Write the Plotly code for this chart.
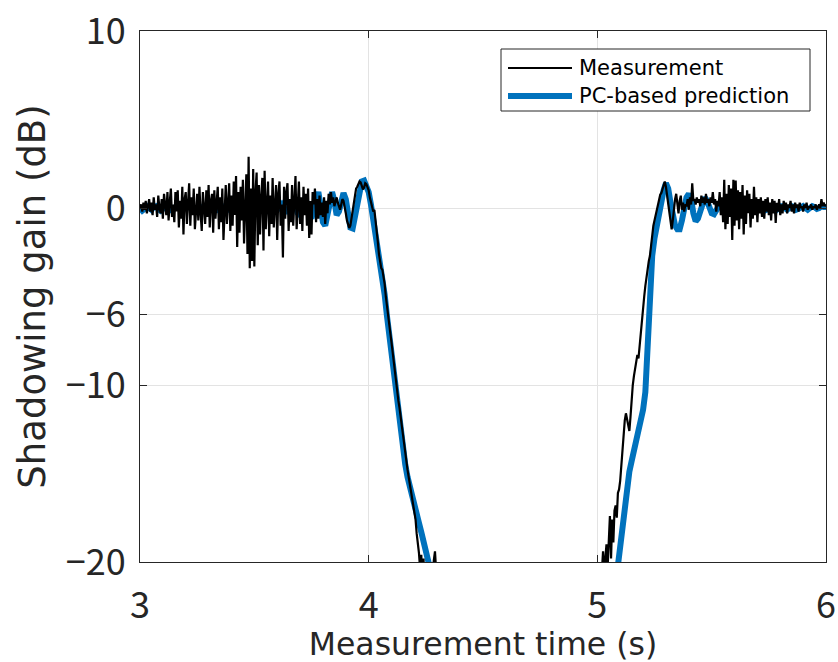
import numpy as np
import plotly.graph_objects as go

# ---------------- data ----------------
DT_MEAS = 0.005
DT_PRED = 0.01

# Measurement, segment 1 starting at t = 3.000 s (step 0.005 s)
meas_left_start = 3.0
meas_left = [
    0.0, 0.2, -0.2, 0.3, -0.1, 0.4, -0.3, 0.1, 0.5, -0.2,
    0.3, -0.4, 0.6, -0.1, 0.2, -0.5, 0.7, 0.0, -0.3, 0.5,
    -0.6, 0.8, 0.1, -0.4, 0.9, -0.7, 0.3, 1.1, -0.5, 0.2,
    -0.8, 0.9, -0.2, 1.0, -1.1, 0.4, -0.6, 1.2, -1.5, 0.5,
    0.9, -0.9, 0.3, 1.4, -1.0, 0.6, -0.4, 1.1, -1.2, 0.2,
    0.8, -0.7, 1.2, -0.3, -1.3, 0.9, 0.1, -0.9, 1.0, -0.5,
    1.3, -1.1, 0.4, 0.8, -1.4, 1.0, -0.6, 0.3, 1.2, -1.2,
    0.6, -0.8, 1.1, -1.8, 0.5, 1.3, -0.9, 0.2, 1.4, -1.3,
    0.7, -1.0, 1.5, -0.4, 1.8, -2.2, 0.9, -1.4, 1.2, -0.7,
    1.6, -2.0, 0.8, 1.9, -2.6, 2.9, -3.4, 1.1, -3.0, 2.2,
    -3.3, 0.9, 2.0, -2.1, 1.3, -1.5, 0.6, 1.7, -2.4, 2.1,
    -1.2, 0.4, 1.5, -1.6, 0.7, -0.9, 1.7, -1.1, 0.3, 1.3,
    -1.8, 0.8, 1.5, -1.0, 0.2, -2.8, 1.2, -0.6, 0.9, 1.4,
    -1.3, 0.5, -0.8, 1.3, -1.0, 0.6, 1.8, -1.2, 0.3, 1.5,
    -0.9, 0.6, -1.3, 1.2, -0.4, 0.8, -1.0, 1.1, -1.7, 0.4,
    -1.5, 0.9, 0.2, 1.1, -0.8, 0.5, -0.6, 0.7, -0.4, 0.3,
    -0.5, 0.6, -0.9, 0.4, -0.3, 0.8, 0.2, 0.9, 0.3, 0.6,
    0.1, 0.4, 0.6, 0.3, 0.0, -0.1, 0.2, 0.5, 0.4, 0.1,
    -0.3, -0.7, -1.0, -1.13, -1.0, -0.6, -0.1, 0.4, 0.8, 1.1,
    1.2, 1.4, 1.5, 1.45, 1.2, 1.05, 1.15, 1.4, 1.35, 1.2,
    1.0, 0.6, 0.3, 0.0, -0.2, -0.1, -0.6, -1.2, -1.9, -2.6,
    -3.1, -3.4, -3.5, -3.8, -4.3, -5.0, -5.6, -6.2, -6.7, -7.1,
    -7.6, -8.2, -8.8, -9.3, -9.8, -10.2, -10.9, -11.3, -11.9, -12.4,
    -12.8, -13.3, -13.9, -14.3, -14.8, -15.2, -15.6, -15.9, -16.4, -16.9,
    -17.3, -17.6, -18.4, -18.9, -19.5, -20.4, -19.6, -21.0, -19.8, -22.0,
    -23.0, -24.0, -24.0, -23.0, -22.0, -21.0, -20.6, -19.9, -19.4, -20.5,
    -24.0,
]

# Measurement, segment 2 starting at t = 5.000 s (step 0.005 s)
meas_right_start = 5.0
meas_right = [
    -25.0, -24.0, -23.0, -22.0, -20.8, -19.4, -20.6, -19.6, -19.0, -20.3,
    -18.2, -17.4, -19.8, -17.6, -18.9, -17.1, -16.8, -17.5, -16.1, -15.9,
    -15.4, -14.4, -13.5, -12.6, -12.0, -11.6, -11.9, -12.3, -12.6, -11.8,
    -10.8, -10.0, -9.5, -9.0, -8.5, -8.3, -8.5, -7.8, -6.9, -6.0,
    -5.4, -5.0, -4.4, -3.8, -3.3, -3.0, -2.7, -2.0, -1.5, -1.0,
    -0.7, -0.4, 0.0, 0.3, 0.6, 0.75, 0.85, 1.1, 1.35, 1.5,
    1.2, 0.7, 0.1, -0.5, -0.9, -1.2, -0.7, 0.0, 0.5, 0.8,
    0.2, -0.3, 0.4, 0.7, -0.1, 0.3, -0.2, 0.2, 0.1, 0.5,
    -0.1, 0.6, 0.2, 1.4, 0.4, 0.5, 0.2, 0.6, 0.3, 0.5,
    0.1, 0.7, 0.3, 0.6, 0.2, 0.8, 0.3, 0.5, 0.1, 0.6,
    0.3, 0.9, 0.2, 0.5, -0.2, 0.4, 0.1, 0.9, -0.4, 0.6,
    -0.8, 1.6, -1.2, 0.8, -0.9, 1.3, -0.5, 1.1, -1.8, 1.6,
    -1.0, 1.55, -0.7, 1.0, -1.2, 0.9, -0.6, 1.3, -1.5, 0.7,
    -0.9, 1.0, -0.3, 0.8, -1.1, 0.5, -0.6, 1.2, -0.4, 0.6,
    -0.8, 0.5, -0.3, 0.6, -0.5, 0.4, -0.6, 0.5, -0.2, 0.6,
    -0.4, 0.3, -0.7, 0.5, -0.3, 0.4, -0.85, 0.3, -0.2, 0.5,
    -0.4, 0.2, -0.3, 0.4, -0.1, 0.3, -0.3, 0.2, 0.0, 0.4,
    -0.2, 0.2, -0.3, 0.3, 0.0, 0.2, -0.2, 0.3, 0.0, 0.1,
    -0.2, 0.2, 0.0, 0.3, -0.1, 0.1, 0.0, 0.2, -0.1, 0.1,
    0.0, 0.2, -0.1, 0.1, 0.2, 0.0, 0.5, 0.1, 0.3, 0.1,
    0.2,
]

# PC-based prediction, segment 1 starting at t = 3.00 s (step 0.01 s)
pred_left_start = 3.0
pred_left = [
    0.0, -0.15, -0.05, 0.1, 0.0, -0.1, 0.05, 0.1, -0.05, -0.15,
    -0.05, 0.05, 0.0, -0.1, -0.15, 0.0, 0.1, 0.05, -0.1, -0.05,
    0.0, 0.1, 0.0, -0.1, -0.05, 0.05, 0.1, 0.0, -0.1, -0.1,
    0.0, 0.1, 0.05, -0.05, -0.1, 0.0, 0.1, 0.1, -0.05, -0.1,
    -0.05, 0.05, 0.1, 0.0, -0.1, -0.15, 0.0, 0.1, 0.15, 0.0,
    -0.1, -0.15, 0.0, 0.15, 0.1, -0.05, -0.15, -0.05, 0.1, 0.15,
    -0.1, 0.1, 0.2, 0.0, -0.2, -0.2, 0.1, 0.3, 0.1, -0.3,
    -0.4, 0.0, 0.4, 0.3, -0.3, -0.6, -0.1, 0.6, 0.9, 0.1,
    -0.8, -1.0, -0.2, 0.6, 0.9, 0.4, -0.4, -0.2, 0.5, 0.85,
    0.5, -0.4, -1.1, -1.15, -0.5, 0.4, 1.2, 1.5, 1.55, 1.3,
    0.9, 0.2, -0.6, -1.5, -2.5, -3.3, -4.0, -4.9, -6.1, -7.2,
    -8.4, -9.6, -10.8, -11.9, -12.9, -13.7, -14.5, -15.2, -15.8, -16.3,
    -16.8, -17.3, -17.8, -18.3, -18.8, -19.3, -19.7, -20.2, -21.0, -22.0,
]

# PC-based prediction, segment 2 starting at t = 5.05 s (step 0.01 s)
pred_right_start = 5.05
pred_right = [
    -25.0, -24.0, -23.0, -21.6, -20.2, -19.0, -17.8, -16.6, -15.6, -14.9,
    -14.3, -13.7, -13.2, -12.6, -12.0, -11.4, -10.4, -7.5, -4.3, -2.7,
    -1.7, -0.9, -0.3, 0.4, 1.0, 1.4, 1.1, 0.3, -0.5, -1.0,
    -1.2, -1.2, -0.7, 0.0, 0.6, 0.8, 0.5, -0.3, -0.75, -0.6,
    -0.1, 0.4, 0.6, 0.4, 0.0, -0.3, -0.35, -0.1, 0.2, 0.3,
    0.1, -0.2, -0.3, -0.1, 0.2, 0.25, 0.05, -0.2, -0.2, 0.0,
    0.2, 0.15, -0.05, -0.2, -0.1, 0.1, 0.15, 0.0, -0.15, -0.1,
    0.1, 0.1, -0.05, -0.15, -0.05, 0.1, 0.1, -0.05, -0.1, 0.0,
    0.1, 0.05, -0.1, -0.05, 0.05, 0.1, 0.0, -0.1, 0.0, 0.1,
    0.05, -0.05, 0.0, 0.1, 0.05, 0.05,
]

x_ticks = [3, 4, 5, 6]
y_ticks = [-20, -10, -6, 0, 10]
x_title = "Measurement time (s)"
y_title = "Shadowing gain (dB)"
series_names = ["Measurement", "PC-based prediction"]
series_colors = ["#000000", "#0072BD"]
series_widths = [2.2, 6]


def seg_time(start, n, dt):
    return start + dt * np.arange(n)


t_meas = np.concatenate([seg_time(meas_left_start, len(meas_left), DT_MEAS),
                         seg_time(meas_right_start, len(meas_right), DT_MEAS)])
v_meas = np.array(meas_left + meas_right)
t_pred = np.concatenate([seg_time(pred_left_start, len(pred_left), DT_PRED),
                         seg_time(pred_right_start, len(pred_right), DT_PRED)])
v_pred = np.array(pred_left + pred_right)

TICK_FONT = "Noto Sans CJK JP, Noto Sans, sans-serif"
TEXT_FONT = "DejaVu Sans, sans-serif"
AX = "#262626"

# figure geometry (pixels)
W, H = 838, 662
ML, MR, MT, MB = 140, 12, 31, 100
PW, PH = W - ML - MR, H - MT - MB


def px_x(p):
    return (p - ML) / PW


def px_y(p):
    return (H - MB - p) / PH


fig = go.Figure()
fig.add_trace(go.Scatter(x=t_pred, y=v_pred, mode="lines", name=series_names[1],
                         line=dict(color=series_colors[1], width=series_widths[1]),
                         showlegend=False))
fig.add_trace(go.Scatter(x=t_meas, y=v_meas, mode="lines", name=series_names[0],
                         line=dict(color=series_colors[0], width=series_widths[0]),
                         showlegend=False))

axis_common = dict(
    showline=True, linecolor=AX, linewidth=1, mirror="ticks",
    ticks="inside", ticklen=7, tickcolor=AX, tickwidth=1,
    showgrid=True, gridcolor="#e3e3e3", gridwidth=1, zeroline=False,
    tickfont=dict(family=TICK_FONT, size=36, color=AX),
    automargin=False,
)

fig.update_xaxes(range=[3, 6], tickvals=x_ticks,
                 title=dict(text=x_title, font=dict(family=TEXT_FONT, size=31.5, color=AX), standoff=10),
                 ticklabelstandoff=12, **axis_common)
fig.update_yaxes(range=[-20, 10], tickvals=y_ticks,
                 title=dict(text=y_title, font=dict(family=TEXT_FONT, size=37, color=AX), standoff=8),
                 ticklabelstandoff=6, **axis_common)

# legend drawn as box + line samples + labels
shapes = [dict(type="rect", xref="paper", yref="paper",
               x0=px_x(501), x1=px_x(810), y0=px_y(111), y1=px_y(49),
               line=dict(color=AX, width=1), fillcolor="white", layer="above")]
annotations = []
for i, (name, col, wd) in enumerate(zip(series_names, series_colors, series_widths)):
    yy = px_y(68 + 28 * i)
    shapes.append(dict(type="line", xref="paper", yref="paper",
                       x0=px_x(508), x1=px_x(572), y0=yy, y1=yy,
                       line=dict(color=col, width=wd), layer="above"))
    annotations.append(dict(text=name, xref="paper", yref="paper", x=px_x(577), y=yy,
                            xanchor="left", yanchor="middle", showarrow=False,
                            font=dict(family=TEXT_FONT, size=21, color="#000000")))

fig.update_layout(
    width=W, height=H,
    margin=dict(l=ML, r=MR, t=MT, b=MB),
    paper_bgcolor="white", plot_bgcolor="white",
    font=dict(family=TEXT_FONT, color=AX),
    showlegend=False,
    shapes=shapes, annotations=annotations,
)

fig.write_html("out.html", config={"displayModeBar": False},
               post_script="document.body.style.margin='0';document.body.style.overflow='hidden';")
